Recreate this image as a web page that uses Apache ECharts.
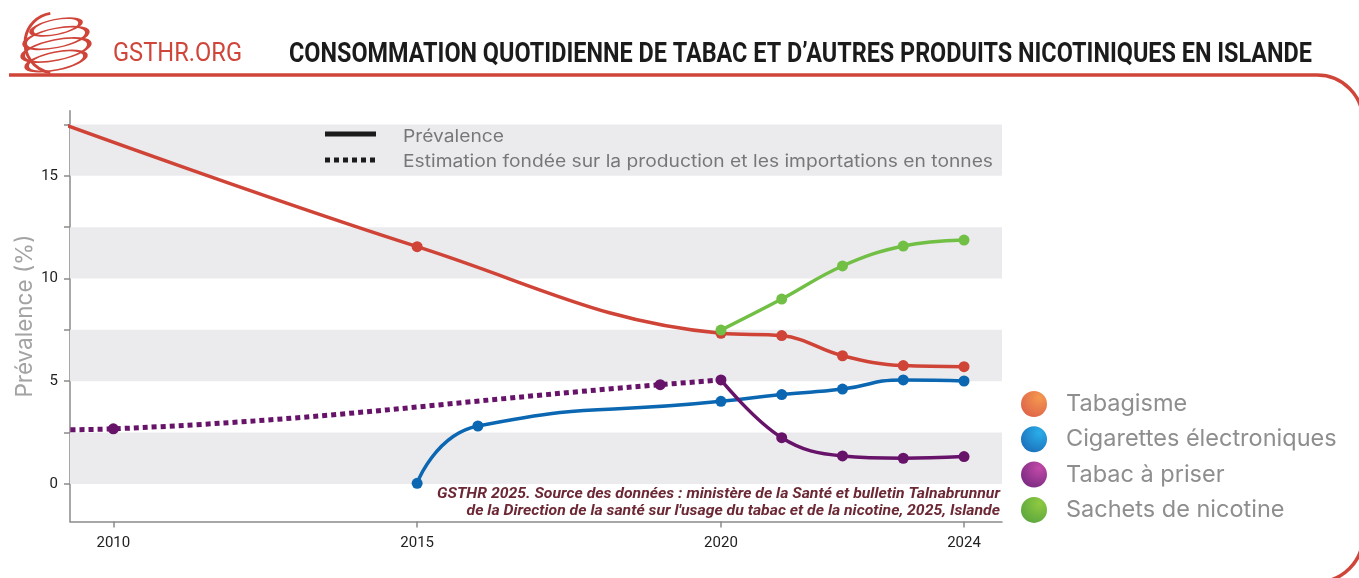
<!DOCTYPE html>
<html>
<head>
<meta charset="utf-8">
<script src="https://cdn.jsdelivr.net/npm/echarts@6/dist/echarts.min.js"></script>
<style>
  html, body { margin: 0; padding: 0; background: #fff; }
  #chart { width: 1359px; height: 578px; }
</style>
</head>
<body>
<div id="chart"></div>
<script>
// values (year, prevalence %)
const tabagisme = [[2009, 17.7], [2015, 11.55], [2020, 7.33], [2021, 7.22], [2022, 6.24], [2023, 5.76], [2024, 5.71]]
const cigarettesElec = [[2015, 0.03], [2016, 2.82], [2020, 4.02], [2021, 4.35], [2022, 4.62], [2023, 5.06], [2024, 5.01]]
const tabacPriser = [[2020, 5.06], [2021, 2.25], [2022, 1.36], [2023, 1.25], [2024, 1.33]]
const tabacPriserEstim = [[2009, 2.63], [2010, 2.68], [2019, 4.83], [2020, 5.06]]
const sachets = [[2020, 7.49], [2021, 9.0], [2022, 10.61], [2023, 11.58], [2024, 11.87]]

const xLabels = [2010, 2015, 2020, 2024]
const yLabels = [0, 5, 10, 15]
const yTicks = [0, 2.5, 5, 7.5, 10, 12.5, 15, 17.5]
const bands = [[0, 2.5], [5, 7.5], [10, 12.5], [15, 17.5]]

const legendNames = ['Tabagisme', 'Cigarettes électroniques', 'Tabac à priser', 'Sachets de nicotine']
const legendLight = ['#f4994f', '#2aaeea', '#c24aa9', '#8fc940']
const legendDark = ['#dd6049', '#1a6cb7', '#76287f', '#58a43e']

const TITLE = 'CONSOMMATION QUOTIDIENNE DE TABAC ET D\u2019AUTRES PRODUITS NICOTINIQUES EN ISLANDE'
const KEY_SOLID = 'Prévalence'
const KEY_DOTTED = 'Estimation fondée sur la production et les importations en tonnes'
const SOURCE_1 = 'GSTHR 2025. Source des données : ministère de la Santé et bulletin Talnabrunnur'
const SOURCE_2 = 'de la Direction de la santé sur l\'usage du tabac et de la nicotine, 2025, Islande'

const RED = '#cf4437'
const BLUE = '#0b67b2'
const PURPLE = '#68136a'
const GREEN = '#72bf45'
const FRAME = '#d0453a'

// squeeze text horizontally to the width it takes in the picture
const ctx = document.createElement('canvas').getContext('2d')
function fitScale(text, font, target) {
  ctx.font = font
  return target / ctx.measureText(text).width
}

function withSymbols(data, hiddenYears) {
  return data.map(d => hiddenYears.indexOf(d[0]) >= 0 ? { value: d, symbol: 'none' } : { value: d })
}

function lineSeries(name, color, data, opts) {
  return Object.assign({
    name: name,
    type: 'line',
    smooth: 0.4,
    data: data,
    symbol: 'circle',
    symbolSize: 11,
    itemStyle: { color: color },
    lineStyle: { color: color, width: 3.5 },
    animation: false
  }, opts || {})
}

const chart = echarts.init(document.getElementById('chart'))

// logo: tilted rings of a globe
const logoRings = [[27, 25], [38, 32], [50, 34], [61, 30]].map(r => ({
  type: 'circle',
  x: 56, y: r[0],
  rotation: 0.2,
  scaleY: 0.3,
  shape: { cx: 0, cy: 0, r: r[1] },
  style: { fill: 'none', stroke: FRAME, lineWidth: 2.6, strokeNoScale: true }
}))
logoRings.push({
  type: 'arc',
  shape: { cx: 55, cy: 43, r: 30, startAngle: Math.PI * 0.55, endAngle: Math.PI * 1.45, clockwise: true },
  style: { fill: 'none', stroke: FRAME, lineWidth: 3 }
})

const titleFont = 'bold 28px Roboto'
const orgFont = '25px Roboto'
const keyFont = '17px Inter'
const srcFont = 'italic bold 14px Roboto'
const keyScale = fitScale(KEY_DOTTED, keyFont, 590)

chart.setOption({
  textStyle: { fontFamily: 'Roboto, sans-serif' },
  grid: { left: 70, right: 357, top: 110.7, bottom: 56.5, containLabel: false, outerBoundsMode: 'none' },
  xAxis: {
    type: 'value',
    min: 2009.287,
    max: 2024.625,
    splitLine: { show: false },
    axisLine: { onZero: false, lineStyle: { color: '#8a8a8a', width: 1.5 } },
    axisTick: { customValues: xLabels, length: 6, lineStyle: { color: '#8a8a8a', width: 1.5 } },
    axisLabel: { customValues: xLabels, formatter: v => String(v), color: '#222', fontSize: 15, margin: 14, fontFamily: 'Roboto' }
  },
  yAxis: {
    type: 'value',
    min: -1.83,
    max: 18.17,
    name: 'Prévalence (%)',
    nameLocation: 'middle',
    nameGap: 33,
    nameMoveOverlap: false,
    nameTextStyle: { color: '#a3a3a3', fontSize: 22.5, fontFamily: 'Inter' },
    splitLine: { show: false },
    axisLine: { show: true, onZero: false, lineStyle: { color: '#8a8a8a', width: 1.5 } },
    axisTick: { show: true, customValues: yTicks, length: 6, lineStyle: { color: '#8a8a8a', width: 1.5 } },
    axisLabel: { customValues: yLabels, color: '#222', fontSize: 15, margin: 12, fontFamily: 'Roboto' }
  },
  legend: {
    data: legendNames.map((n, i) => ({
      name: n,
      itemStyle: {
        color: {
          type: 'radial', x: 0.7, y: 0.25, r: 0.9,
          colorStops: [{ offset: 0, color: legendLight[i] }, { offset: 1, color: legendDark[i] }]
        }
      }
    })),
    orient: 'vertical',
    left: 1016,
    top: 386,
    icon: 'circle',
    itemWidth: 26,
    itemHeight: 26,
    itemGap: 9.3,
    selectedMode: false,
    textStyle: { color: '#8e8e8e', fontSize: 23.5, fontFamily: 'Inter', padding: [0, 0, 0, 14], width: 272, overflow: 'truncate', ellipsis: '' }
  },
  series: [
    {
      name: 'bands',
      type: 'line',
      data: [],
      silent: true,
      markArea: {
        silent: true,
        itemStyle: { color: '#ebebee' },
        data: bands.map(b => [{ yAxis: b[0] }, { yAxis: b[1] }])
      }
    },
    lineSeries('Tabac à priser (estimation)', PURPLE, withSymbols(tabacPriserEstim, [2009, 2020]), {
      lineStyle: { color: PURPLE, width: 5, type: [5, 4], cap: 'butt' }
    }),
    lineSeries('Cigarettes électroniques', BLUE, cigarettesElec, { smooth: 0.55 }),
    lineSeries('Tabagisme', RED, withSymbols(tabagisme, [2009])),
    lineSeries('Tabac à priser', PURPLE, tabacPriser),
    lineSeries('Sachets de nicotine', GREEN, sachets)
  ],
  graphic: [
    // header
    ...logoRings,
    {
      type: 'text', x: 113, y: 55, scaleX: fitScale('GSTHR.ORG', orgFont, 129),
      style: { text: 'GSTHR.ORG', fill: FRAME, font: orgFont, verticalAlign: 'middle' }
    },
    {
      type: 'text', x: 289, y: 55, scaleX: fitScale(TITLE, titleFont, 1023),
      style: { text: TITLE, fill: '#1b1b1b', font: titleFont, verticalAlign: 'middle' }
    },
    // frame
    { type: 'line', shape: { x1: 9, y1: 75, x2: 1317, y2: 75 }, style: { stroke: FRAME, lineWidth: 3.5 } },
    { type: 'arc', shape: { cx: 1317, cy: 121, r: 46, startAngle: -Math.PI / 2, endAngle: 0, clockwise: true }, style: { stroke: FRAME, lineWidth: 3.5, fill: 'none' } },
    { type: 'line', shape: { x1: 1363, y1: 121, x2: 1363, y2: 536 }, style: { stroke: FRAME, lineWidth: 3.5 } },
    { type: 'arc', shape: { cx: 1317, cy: 536, r: 46, startAngle: 0, endAngle: Math.PI / 2, clockwise: true }, style: { stroke: FRAME, lineWidth: 3.5, fill: 'none' } },
    // line-style key
    {
      type: 'line', z: 10, shape: { x1: 325, y1: 134, x2: 376, y2: 134 },
      style: { stroke: '#1b1b1b', lineWidth: 5 }
    },
    {
      type: 'line', z: 10, shape: { x1: 325, y1: 160, x2: 378, y2: 160 },
      style: { stroke: '#1b1b1b', lineWidth: 5, lineDash: [5, 4] }
    },
    {
      type: 'text', z: 10, x: 403, y: 137, scaleX: keyScale,
      style: { text: KEY_SOLID, fill: '#777', font: keyFont, verticalAlign: 'middle' }
    },
    {
      type: 'text', z: 10, x: 403, y: 162, scaleX: keyScale,
      style: { text: KEY_DOTTED, fill: '#777', font: keyFont, verticalAlign: 'middle' }
    },
    // source
    {
      type: 'text', z: 10, x: 1000, y: 485.5, scaleX: fitScale(SOURCE_1, srcFont, 563),
      style: {
        text: SOURCE_1 + '\n' + SOURCE_2,
        fill: '#6c2834', align: 'right', verticalAlign: 'top', lineHeight: 17,
        font: srcFont
      }
    }
  ]
})
</script>
</body>
</html>
